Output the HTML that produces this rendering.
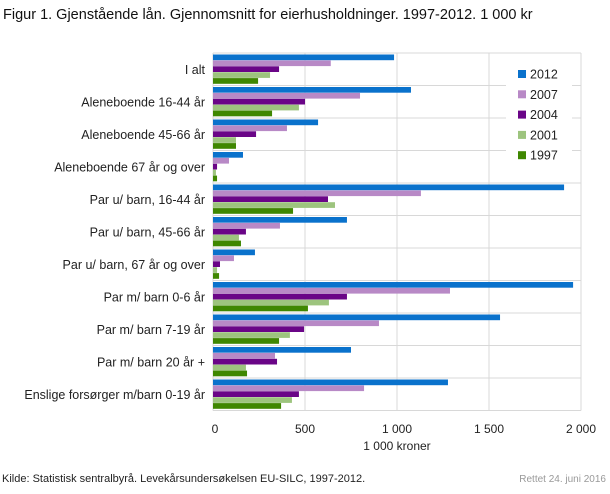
<!DOCTYPE html>
<html><head><meta charset="utf-8"><style>
body{margin:0;background:#fff;font-family:"Liberation Sans",sans-serif;}
</style></head><body>
<svg width="610" height="489" xmlns="http://www.w3.org/2000/svg" font-family="Liberation Sans, sans-serif">
<text x="3" y="19" font-size="14.5" fill="#111">Figur 1. Gjenstående lån. Gjennomsnitt for eierhusholdninger. 1997-2012. 1 000 kr</text>
<g id="grid"></g>
<g id="bars"></g>
<g id="cats"></g>
<g id="ticks"></g>
<text x="397" y="450" font-size="12" fill="#222" text-anchor="middle">1 000 kroner</text>
<g id="legend"></g>
<text x="2" y="482" font-size="11" fill="#222">Kilde: Statistisk sentralbyrå. Levekårsundersøkelsen EU-SILC, 1997-2012.</text>
<text x="606" y="482" font-size="10" fill="#999" text-anchor="end">Rettet 24. juni 2016</text>
</svg>
<script>
const categories=["I alt","Aleneboende 16-44 år","Aleneboende 45-66 år","Aleneboende 67 år og over","Par u/ barn, 16-44 år","Par u/ barn, 45-66 år","Par u/ barn, 67 år og over","Par m/ barn 0-6 år","Par m/ barn 7-19 år","Par m/ barn 20 år +","Enslige forsørger m/barn 0-19 år"];
const seriesNames=["2012","2007","2004","2001","1997"];
const v2012=[984,1076,571,163,1908,728,228,1957,1560,750,1277];
const v2007=[640,799,402,87,1130,364,114,1288,902,337,821];
const v2004=[359,500,234,22,625,179,38,728,495,348,467];
const v2001=[310,467,125,16,663,141,22,630,418,179,429];
const v1997=[245,321,125,22,435,152,33,516,359,185,370];
const ticks=[0,500,1000,1500,2000];
const tickLabels=["0","500","1 000","1 500","2 000"];
const series=[v2012,v2007,v2004,v2001,v1997];
const colors=["#0a72cc","#b889c6","#6a0587","#9dc47e","#3f8701"];
const NS="http://www.w3.org/2000/svg";
const x0=213,x1=581,yTop=53,yBot=410.5;
const xs=v=>x0+(x1-x0)*v/2000;
const gh=(yBot-yTop)/categories.length;
const ys=i=>yTop+i*gh;
function mk(t,a,p){const e=document.createElementNS(NS,t);for(const k in a)e.setAttribute(k,a[k]);p.appendChild(e);return e;}
const grid=document.getElementById('grid');
ticks.forEach(t=>{const l=mk('line',{x1:xs(t),x2:xs(t),y1:yTop,y2:yBot,stroke:'#d8d8d8','stroke-width':1},grid);

});
for(let i=0;i<=categories.length;i++){const l=mk('line',{x1:x0,x2:x1,y1:ys(i),y2:ys(i),stroke:'#d8d8d8','stroke-width':1},grid);

}
const bars=document.getElementById('bars');
const bh=(gh-3)/5;
categories.forEach((c,i)=>{series.forEach((s,j)=>{const r=mk('rect',{x:x0,y:ys(i)+1.5+j*bh,width:Math.max(0,xs(s[i])-x0),height:bh-0.2,fill:colors[j]},bars);

});
const t=mk('text',{x:205,y:ys(i)+gh/2+4.5,'font-size':12.5,fill:'#222','text-anchor':'end'},document.getElementById('cats'));
t.textContent=c;

});
const tk=document.getElementById('ticks');
ticks.forEach((t,i)=>{const e=mk('text',{x:xs(t)+(i==0?2:0),y:433,'font-size':12,fill:'#222','text-anchor':'middle'},tk);
e.textContent=tickLabels[i];

});
const lg=document.getElementById('legend');
const bg=mk('rect',{x:506,y:60,width:66,height:104,fill:'#fff'},lg);


seriesNames.forEach((n,j)=>{const y=74+j*20.3;
const g=mk('g',{},lg);


mk('rect',{x:518,y:y-4,width:8,height:8,fill:colors[j]},g);
const t=mk('text',{x:530,y:y+4.5,'font-size':12.5,fill:'#222'},g);t.textContent=n;});
</script>
</body></html>
